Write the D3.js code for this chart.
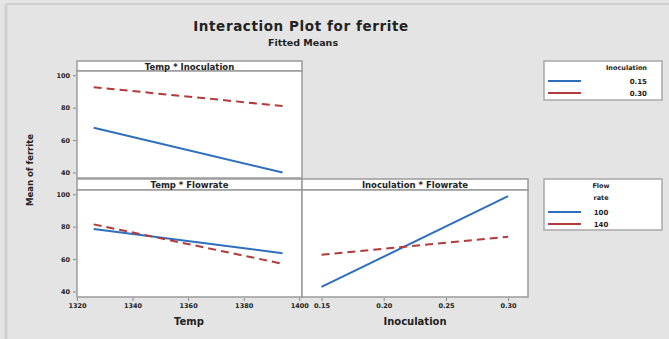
<!DOCTYPE html>
<html><head><meta charset="utf-8">
<script src="https://cdn.jsdelivr.net/npm/d3@7"></script>
<style>body{margin:0;background:#e4e4e4}svg{display:block}text{font-family:"DejaVu Sans",Arial,sans-serif}</style>
</head><body><svg id="c" width="669" height="339"></svg>
<script>
// ---- data ----
const tempLevels = [1326, 1394];
const inocLevels = [0.15, 0.30];
const flowLevels = ["100", "140"];
const inocLegend = ["0.15", "0.30"];
// Temp * Inoculation (fitted means at tempLevels)
const tempInoc015 = [67.6, 40.0];
const tempInoc030 = [92.6, 81.0];
// Temp * Flowrate
const tempFlow100 = [78.5, 63.6];
const tempFlow140 = [81.4, 57.1];
// Inoculation * Flowrate
const inocFlow100 = [42.8, 98.8];
const inocFlow140 = [62.6, 73.8];
const yTicks = [40, 60, 80, 100];
const tempTicks = [1320, 1340, 1360, 1380, 1400];
const inocTicks = [0.15, 0.20, 0.25, 0.30];

const blue = "#2e6fbd", red = "#b23b3b", frame = "#9a9a9a";
const svg = d3.select("#c");
svg.append("rect").attr("width",669).attr("height",339).attr("fill","#e4e4e4");
svg.append("line").attr("x1",6).attr("x2",669).attr("y1",4).attr("y2",4).attr("stroke","#d0d0d0").attr("stroke-width",2);
svg.append("line").attr("x1",6).attr("x2",6).attr("y1",4).attr("y2",339).attr("stroke","#d0d0d0").attr("stroke-width",3);

// titles
svg.append("text").attr("x",301).attr("y",31).attr("text-anchor","middle").attr("font-size",13.5).attr("font-weight","bold").attr("letter-spacing",0.6).attr("fill","#222").text("Interaction Plot for ferrite");
svg.append("text").attr("x",303).attr("y",45.5).attr("text-anchor","middle").attr("font-size",9.5).attr("font-weight","bold").attr("fill","#222").text("Fitted Means");
svg.append("text").attr("transform","translate(33,170) rotate(-90)").attr("text-anchor","middle").attr("font-size",8.5).attr("font-weight","bold").attr("fill","#222").text("Mean of ferrite");

// scales
const xTemp = d3.scaleLinear().domain([1320, 1401]).range([77, 302]);
const xInoc = d3.scaleLinear().domain([0.1343, 0.316]).range([302, 528]);
const yTop = d3.scaleLinear().domain([36.6, 102.6]).range([178, 71]);
const yBot = d3.scaleLinear().domain([36.6, 102.6]).range([297, 190]);

function panel(x0, x1, yS, stripTop, title){
  const [yb, yt] = yS.range();
  svg.append("rect").attr("x",x0).attr("y",stripTop).attr("width",x1-x0).attr("height",yt-stripTop).attr("fill","#fff").attr("stroke",frame).attr("stroke-width",1.5);
  svg.append("rect").attr("x",x0).attr("y",yt).attr("width",x1-x0).attr("height",yb-yt).attr("fill","#fff").attr("stroke",frame).attr("stroke-width",1.5);
  svg.append("text").attr("x",(x0+x1)/2).attr("y",stripTop+8.5).attr("text-anchor","middle").attr("font-size",8.5).attr("font-weight","bold").attr("fill","#222").text(title);
}
panel(77, 302, yTop, 61, "Temp * Inoculation");
panel(77, 302, yBot, 179, "Temp * Flowrate");
panel(302, 528, yBot, 179, "Inoculation * Flowrate");

function styleAxis(g){
  g.select(".domain").remove();
  g.selectAll(".tick line").attr("stroke","#888");
  g.selectAll(".tick text").attr("font-size",6.5).attr("font-weight","bold").attr("fill","#222");
}
svg.append("g").attr("transform","translate(76,0)").call(d3.axisLeft(yTop).tickValues(yTicks).tickSize(3).tickPadding(3)).call(styleAxis);
svg.append("g").attr("transform","translate(76,0)").call(d3.axisLeft(yBot).tickValues(yTicks).tickSize(3).tickPadding(3)).call(styleAxis);
svg.append("g").attr("transform","translate(0,298)").call(d3.axisBottom(xTemp).tickValues(tempTicks).tickFormat(d3.format("d")).tickSize(3).tickPadding(2)).call(styleAxis);
svg.append("g").attr("transform","translate(0,298)").call(d3.axisBottom(xInoc).tickValues(inocTicks).tickFormat(d3.format(".2f")).tickSize(3).tickPadding(2)).call(styleAxis);

svg.append("text").attr("x",189).attr("y",325).attr("text-anchor","middle").attr("font-size",10).attr("font-weight","bold").attr("fill","#222").text("Temp");
svg.append("text").attr("x",415).attr("y",325).attr("text-anchor","middle").attr("font-size",10).attr("font-weight","bold").attr("fill","#222").text("Inoculation");

function series(xs, ys, xScale, yScale, color, dashed){
  const line = d3.line().x((d,i)=>xScale(xs[i])).y(d=>yScale(d));
  svg.append("path").datum(ys).attr("d",line).attr("fill","none").attr("stroke",color).attr("stroke-width",2)
    .attr("stroke-dasharray", dashed ? "8,5" : null);
}
series(tempLevels, tempInoc015, xTemp, yTop, blue, false);
series(tempLevels, tempInoc030, xTemp, yTop, red, true);
series(tempLevels, tempFlow100, xTemp, yBot, blue, false);
series(tempLevels, tempFlow140, xTemp, yBot, red, true);
series(inocLevels, inocFlow100, xInoc, yBot, blue, false);
series(inocLevels, inocFlow140, xInoc, yBot, red, true);

// legends
function legend(y0, h, titleLines, labels, anchor, lx, ly0){
  svg.append("rect").attr("x",544).attr("y",y0).attr("width",118).attr("height",h).attr("fill","#fff").attr("stroke","#a8a8a8").attr("stroke-width",1.5);
  titleLines.forEach((t,i)=>svg.append("text").attr("x",lx).attr("y",y0+9+i*12).attr("text-anchor",anchor).attr("font-size",6.5).attr("font-weight","bold").attr("fill","#222").text(t));
  labels.forEach((t,i)=>{
    const yy = ly0 + i*12;
    svg.append("line").attr("x1",548).attr("x2",581).attr("y1",yy).attr("y2",yy).attr("stroke",[blue,red][i]).attr("stroke-width",2);
    svg.append("text").attr("x",lx).attr("y",yy+2.5).attr("text-anchor",anchor).attr("font-size",7).attr("font-weight","bold").attr("fill","#222").text(t);
  });
}
legend(61, 39, ["Inoculation"], inocLegend, "end", 647, 81);
legend(179, 51, ["Flow","rate"], flowLevels, "middle", 601, 212);
</script></body></html>
